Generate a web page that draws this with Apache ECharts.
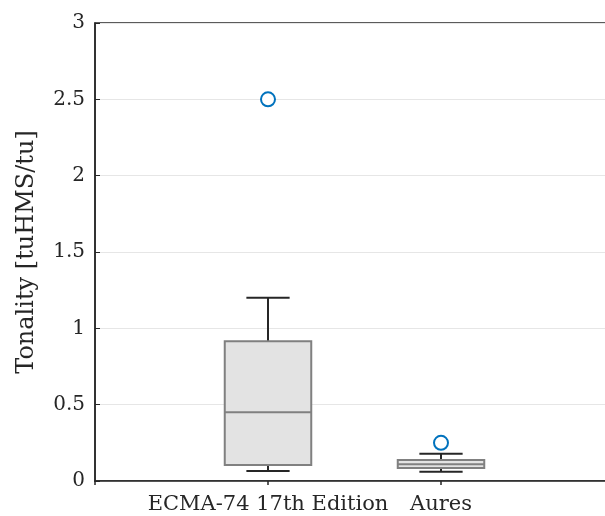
<!DOCTYPE html>
<html><head><meta charset="utf-8">
<script src="https://cdn.jsdelivr.net/npm/echarts@6/dist/echarts.min.js"></script>
<style>html,body{margin:0;padding:0;background:#fff}#c{width:605px;height:516px}</style>
</head><body><div id="c"></div>
<script>
var categories = ['ECMA-74 17th Edition', 'Aures'];
var lowerWhisker = [0.065, 0.06];
var q1 = [0.105, 0.085];
var median = [0.45, 0.11];
var q3 = [0.915, 0.137];
var upperWhisker = [1.2, 0.178];
var outliers = [[1, 2.5], [2, 0.25]];
var yTicks = [0, 0.5, 1, 1.5, 2, 2.5, 3];

var boxData = categories.map(function (c, i) {
  return [i + 1, lowerWhisker[i], q1[i], median[i], q3[i], upperWhisker[i]];
});

var font = 'DejaVu Serif';
var chart = echarts.init(document.getElementById('c'));
chart.setOption({
  animation: false,
  grid: { left: 95, top: 23, height: 458, width: 519, outerBoundsMode: 'none', containLabel: false,
          show: true, borderColor: '#262626', borderWidth: 1.5 },
  xAxis: {
    type: 'value', min: 0, max: 3, interval: 1,
    axisLine: { show: true, onZero: false, lineStyle: { color: '#262626', width: 1.5 } },
    axisTick: { show: true, inside: false, length: 4, lineStyle: { color: '#262626', width: 1.5 } },
    splitLine: { show: false },
    axisLabel: {
      fontFamily: font, fontSize: 21, color: '#262626', margin: 13,
      formatter: function (v) { return categories[v - 1] || ''; }
    }
  },
  yAxis: {
    type: 'value', min: 0, max: 3, interval: 0.5,
    name: 'Tonality [tuHMS/tu]', nameLocation: 'middle', nameGap: 56,
    nameTextStyle: { fontFamily: font, fontSize: 24, color: '#262626' },
    axisLine: { show: true, lineStyle: { color: '#262626', width: 1.5 } },
    axisTick: { show: true, inside: true, length: 5, lineStyle: { color: '#262626', width: 1 } },
    splitLine: { show: true, lineStyle: { color: '#e6e6e6', width: 1 } },
    axisLabel: {
      fontFamily: font, fontSize: 20, color: '#262626', margin: 10,
      formatter: function (v) { return String(v); }
    }
  },
  series: [
    {
      type: 'custom',
      data: boxData,
      renderItem: function (params, api) {
        var x = api.value(0);
        var pL = api.coord([x, api.value(1)]);
        var p1 = api.coord([x, api.value(2)]);
        var pM = api.coord([x, api.value(3)]);
        var p3 = api.coord([x, api.value(4)]);
        var pU = api.coord([x, api.value(5)]);
        var unit = api.size([1, 0])[0];
        var hw = unit * 0.25, cw = unit * 0.125;
        var cx = pL[0];
        var wStyle = { stroke: '#262626', lineWidth: 2 };
        return {
          type: 'group',
          children: [
            { type: 'line', shape: { x1: cx, y1: p3[1], x2: cx, y2: pU[1] }, style: wStyle },
            { type: 'line', shape: { x1: cx, y1: pL[1], x2: cx, y2: p1[1] }, style: wStyle },
            { type: 'line', shape: { x1: cx - cw, y1: pU[1], x2: cx + cw, y2: pU[1] }, style: wStyle },
            { type: 'line', shape: { x1: cx - cw, y1: pL[1], x2: cx + cw, y2: pL[1] }, style: wStyle },
            { type: 'rect', shape: { x: cx - hw, y: p3[1], width: 2 * hw, height: p1[1] - p3[1] },
              style: { fill: '#e3e3e3', stroke: '#808080', lineWidth: 2 } },
            { type: 'line', shape: { x1: cx - hw, y1: pM[1], x2: cx + hw, y2: pM[1] },
              style: { stroke: '#808080', lineWidth: 2 } }
          ]
        };
      },
      z: 3
    },
    {
      type: 'scatter',
      data: outliers,
      symbol: 'circle', symbolSize: 14,
      itemStyle: { color: '#ffffff', borderColor: '#0072BD', borderWidth: 2, opacity: 1 },
      z: 4
    }
  ]
});
</script></body></html>
